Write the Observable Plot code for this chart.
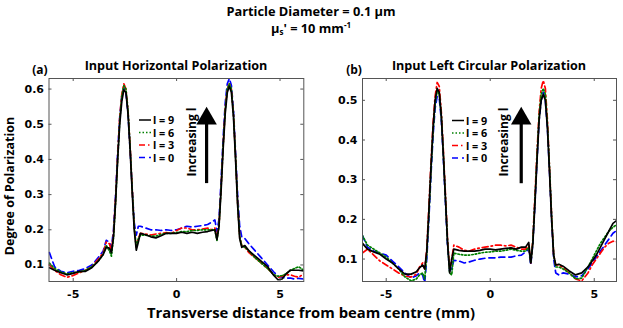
<!DOCTYPE html>
<html><head><meta charset="utf-8">
<script src="https://cdn.jsdelivr.net/npm/d3@7"></script>
<script src="https://cdn.jsdelivr.net/npm/@observablehq/plot@0.6"></script>
<style>
html,body{margin:0;padding:0;background:#fff;}
#wrap{position:relative;width:623px;height:328px;overflow:hidden;background:#fff;}
#wrap svg{position:absolute;top:0;}
</style></head><body><div id="wrap"></div>
<script>
// Transverse distance (mm) – shared sample positions
const xPos = [-6.15,-5.9,-5.6,-5.3,-5.0,-4.7,-4.4,-4.1,-3.8,-3.55,-3.4,-3.25,-3.15,-3.05,-2.95,-2.85,-2.75,-2.65,-2.55,-2.45,-2.35,-2.25,-2.15,-2.05,-1.95,-1.85,-1.75,-1.5,-1.25,-1.0,-0.75,-0.5,-0.25,0,0.25,0.5,0.75,1.0,1.25,1.5,1.7,1.85,1.95,2.05,2.15,2.25,2.35,2.45,2.55,2.65,2.75,2.85,2.95,3.05,3.15,3.3,3.5,3.8,4.1,4.4,4.7,4.9,5.1,5.3,5.5,5.7,5.9,6.15];

// (a) Input Horizontal Polarization
const horizL9 = [0.092,0.085,0.078,0.072,0.076,0.082,0.082,0.092,0.11,0.13,0.15,0.148,0.135,0.18,0.28,0.40,0.50,0.565,0.598,0.59,0.53,0.43,0.31,0.20,0.142,0.165,0.19,0.186,0.18,0.177,0.183,0.19,0.19,0.19,0.193,0.19,0.193,0.19,0.193,0.195,0.198,0.20,0.172,0.21,0.31,0.43,0.53,0.59,0.608,0.59,0.52,0.40,0.27,0.175,0.15,0.155,0.14,0.125,0.11,0.095,0.07,0.058,0.06,0.075,0.085,0.085,0.085,0.083];
const horizL6 = [0.105,0.09,0.08,0.075,0.078,0.08,0.085,0.095,0.11,0.13,0.155,0.14,0.125,0.18,0.28,0.40,0.51,0.58,0.61,0.60,0.54,0.44,0.32,0.21,0.15,0.175,0.185,0.185,0.182,0.182,0.187,0.19,0.19,0.192,0.195,0.195,0.198,0.198,0.20,0.20,0.20,0.20,0.17,0.21,0.32,0.44,0.54,0.60,0.615,0.60,0.53,0.41,0.28,0.18,0.155,0.15,0.14,0.12,0.105,0.09,0.072,0.068,0.07,0.075,0.085,0.09,0.095,0.085];
const horizL3 = [0.10,0.085,0.072,0.065,0.07,0.078,0.085,0.095,0.115,0.135,0.165,0.16,0.14,0.19,0.29,0.41,0.52,0.585,0.615,0.60,0.54,0.44,0.32,0.21,0.15,0.175,0.19,0.188,0.185,0.188,0.19,0.192,0.19,0.198,0.205,0.205,0.20,0.20,0.202,0.205,0.20,0.205,0.175,0.215,0.32,0.44,0.545,0.60,0.615,0.60,0.53,0.41,0.28,0.18,0.155,0.15,0.135,0.12,0.105,0.09,0.072,0.065,0.068,0.072,0.072,0.068,0.065,0.075];
const horizL0 = [0.135,0.095,0.082,0.078,0.082,0.085,0.09,0.10,0.12,0.14,0.17,0.165,0.15,0.20,0.30,0.42,0.52,0.58,0.605,0.59,0.53,0.43,0.32,0.22,0.185,0.21,0.21,0.205,0.20,0.20,0.198,0.20,0.198,0.20,0.205,0.21,0.208,0.21,0.212,0.215,0.222,0.228,0.195,0.23,0.34,0.46,0.56,0.615,0.63,0.61,0.54,0.42,0.30,0.21,0.18,0.175,0.16,0.14,0.12,0.10,0.08,0.068,0.065,0.062,0.063,0.06,0.062,0.06];

// (b) Input Left Circular Polarization
const circL9 = [0.14,0.125,0.118,0.112,0.10,0.09,0.075,0.062,0.062,0.068,0.078,0.085,0.075,0.12,0.22,0.33,0.43,0.50,0.53,0.52,0.46,0.36,0.25,0.14,0.065,0.10,0.125,0.122,0.12,0.12,0.12,0.122,0.125,0.125,0.123,0.125,0.127,0.128,0.125,0.13,0.13,0.142,0.09,0.14,0.24,0.35,0.45,0.50,0.515,0.50,0.43,0.32,0.20,0.11,0.085,0.087,0.082,0.07,0.06,0.065,0.08,0.095,0.11,0.13,0.15,0.17,0.19,0.20];
const circL6 = [0.16,0.135,0.125,0.115,0.105,0.09,0.075,0.055,0.045,0.05,0.06,0.065,0.05,0.11,0.21,0.32,0.42,0.49,0.525,0.515,0.46,0.36,0.25,0.14,0.065,0.06,0.115,0.112,0.11,0.11,0.112,0.115,0.117,0.118,0.12,0.12,0.122,0.125,0.122,0.12,0.12,0.13,0.09,0.145,0.25,0.36,0.46,0.515,0.53,0.515,0.44,0.33,0.21,0.11,0.08,0.08,0.075,0.065,0.05,0.052,0.08,0.10,0.12,0.14,0.155,0.17,0.18,0.19];
const circL3 = [0.115,0.125,0.11,0.095,0.085,0.075,0.065,0.057,0.055,0.062,0.08,0.09,0.075,0.125,0.23,0.34,0.44,0.51,0.545,0.535,0.47,0.37,0.26,0.15,0.075,0.10,0.135,0.13,0.122,0.12,0.125,0.128,0.13,0.132,0.135,0.135,0.133,0.135,0.13,0.125,0.125,0.135,0.09,0.15,0.26,0.37,0.47,0.53,0.55,0.53,0.45,0.33,0.21,0.11,0.085,0.085,0.078,0.065,0.05,0.045,0.065,0.085,0.10,0.115,0.13,0.14,0.145,0.143];
const circL0 = [0.16,0.13,0.12,0.115,0.11,0.095,0.08,0.065,0.052,0.058,0.065,0.06,0.04,0.10,0.20,0.31,0.41,0.48,0.51,0.505,0.45,0.35,0.24,0.13,0.07,0.075,0.097,0.095,0.09,0.093,0.097,0.10,0.102,0.103,0.103,0.105,0.105,0.105,0.108,0.11,0.118,0.125,0.085,0.14,0.24,0.35,0.45,0.50,0.52,0.50,0.43,0.32,0.20,0.10,0.065,0.06,0.065,0.062,0.055,0.058,0.075,0.09,0.105,0.12,0.135,0.15,0.165,0.175];

const seriesLabels = ["l = 9","l = 6","l = 3","l = 0"];
const xTicks = [-5, 0, 5];
const yTicksA = [0.1,0.2,0.3,0.4,0.5,0.6];
const yTicksB = [0.1,0.2,0.3,0.4,0.5];

const styles = [
  {color:"#000000", dash:null},
  {color:"#008000", dash:"1.5,2"},
  {color:"#ff0000", dash:"6,3,1.5,3"},
  {color:"#0000ff", dash:"6,4"}
];

const wrap = document.getElementById("wrap");
const H = 328, MT = 78, MB = 47;
const FRAME = "#555";

function panel({left, width, ml, mr, xDomain, yDomain, yTicks, values, arrow}) {
  const fw = width - ml - mr, fh = H - MT - MB;
  const marks = [];
  for (const k of [3,2,1,0]) {
    const rows = xPos.map((x,i)=>({x, y: values[k][i]}));
    marks.push(Plot.line(rows, {x:"x", y:"y", stroke: styles[k].color, strokeWidth:1.7,
      strokeDasharray: styles[k].dash, clip:true}));
  }
  marks.push(Plot.frame({stroke: FRAME}));
  marks.push(Plot.tickY(yTicks, {y:d=>d, insetRight: fw-3, stroke: FRAME}));
  marks.push(Plot.tickY(yTicks, {y:d=>d, insetLeft: fw-3, stroke: FRAME}));
  marks.push(Plot.tickX(xTicks, {x:d=>d, insetTop: fh-3, stroke: FRAME}));
  marks.push(Plot.tickX(xTicks, {x:d=>d, insetBottom: fh-3, stroke: FRAME}));
  marks.push(Plot.axisY(yTicks, {tickSize:0, tickPadding:5, tickFormat: d3.format(".1f"), label:null}));
  marks.push(Plot.axisX(xTicks, {tickSize:0, tickPadding:9, tickFormat: d=>String(d), label:null}));
  // arrow annotation
  marks.push(Plot.ruleX([arrow], {x:"x", y1:"tail", y2:"tip", stroke:"#000", strokeWidth:3.2, dy:8}));
  marks.push(Plot.dot([arrow], {x:"x", y:"tip", symbol:"triangle", r:7.6, fill:"#000", stroke:null, dy:11.5}));
  const svg = Plot.plot({
    width, height: H, marginLeft: ml, marginRight: mr, marginTop: MT, marginBottom: MB,
    x: {domain: xDomain}, y: {domain: yDomain},
    style: {fontFamily: "'DejaVu Sans', sans-serif", fontSize: "11px", fontWeight: "bold", color:"#000", background:"transparent", overflow:"visible"},
    marks
  });
  svg.style.left = left + "px";
  wrap.appendChild(svg);
}

panel({left:0, width:311, ml:48.5, mr:7.7, xDomain:[-6.17, 6.15], yDomain:[0.053, 0.63],
  yTicks: yTicksA, values:[horizL9, horizL6, horizL3, horizL0], arrow:{x:1.45, tail:0.354, tip:0.549}});
panel({left:311, width:312, ml:51, mr:7, xDomain:[-6.14, 6.07], yDomain:[0.0434, 0.555],
  yTicks: yTicksB, values:[circL9, circL6, circL3, circL0], arrow:{x:1.49, tail:0.31, tip:0.483}});

// text overlay: titles, labels, legends
const ov = d3.select(wrap).append("svg").attr("width",623).attr("height",328)
  .style("left","0px").style("pointer-events","none")
  .style("font-family","'Open Sans', sans-serif").style("font-weight","bold").attr("fill","#000");

ov.append("text").attr("x",311).attr("y",16).attr("text-anchor","middle").attr("font-size",12.8)
  .text("Particle Diameter = 0.1 μm");
const t2 = ov.append("text").attr("x",311).attr("y",33).attr("text-anchor","middle").attr("font-size",12.8);
t2.append("tspan").text("μ");
t2.append("tspan").attr("font-size",8).attr("dy",2).text("s");
t2.append("tspan").attr("dy",-2).text("' = 10 mm");
t2.append("tspan").attr("font-size",8).attr("dy",-5).text("-1");

ov.append("text").attr("x",40).attr("y",74).attr("text-anchor","middle").attr("font-size",12).text("(a)");
ov.append("text").attr("x",176).attr("y",70).attr("text-anchor","middle").attr("font-size",12.6).text("Input Horizontal Polarization");
ov.append("text").attr("x",354).attr("y",74).attr("text-anchor","middle").attr("font-size",12).text("(b)");
ov.append("text").attr("x",489).attr("y",70).attr("text-anchor","middle").attr("font-size",12.6).text("Input Left Circular Polarization");

ov.append("text").attr("transform","translate(14,186) rotate(-90)").attr("text-anchor","middle").attr("font-size",12.5).text("Degree of Polarization");
ov.append("text").attr("x",311).attr("y",318).attr("text-anchor","middle").attr("font-size",14.8).text("Transverse distance from beam centre (mm)");

function legend(x0, rows) {
  seriesLabels.forEach((lab,i)=>{
    const y = rows[i];
    ov.append("line").attr("x1",x0).attr("x2",x0+12).attr("y1",y).attr("y2",y)
      .attr("stroke",styles[i].color).attr("stroke-width",1.5)
      .attr("stroke-dasharray",styles[i].dash);
    ov.append("text").attr("x",x0+14).attr("y",y+4).attr("font-size",10.8).text(lab);
  });
}
legend(139, [120,132.5,145,157.5]);
legend(452, [120.5,133,145.5,158]);

ov.append("text").attr("transform","translate(196,142) rotate(-90)").attr("text-anchor","middle").attr("font-size",12).text("Increasing l");
ov.append("text").attr("transform","translate(508,142) rotate(-90)").attr("text-anchor","middle").attr("font-size",12).text("Increasing l");
</script>
</body></html>
